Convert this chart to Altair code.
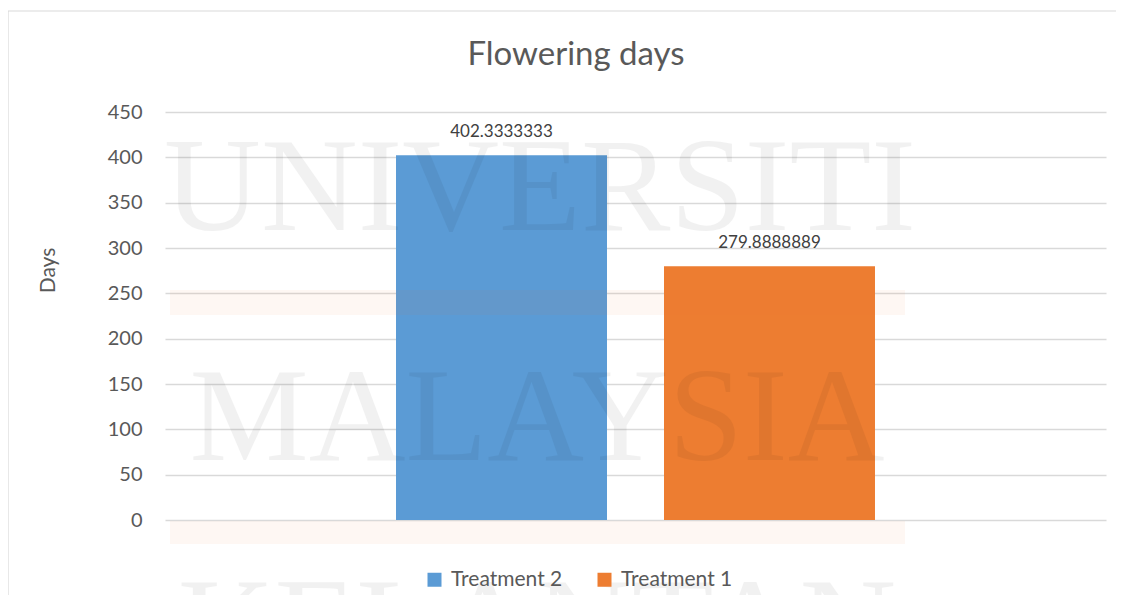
import altair as alt
import pandas as pd

# ---- data ----
series = ["Treatment 2", "Treatment 1"]
values = [402.3333333, 279.8888889]
colors = ["#5B9BD5", "#ED7D31"]
y_ticks = [0, 50, 100, 150, 200, 250, 300, 350, 400, 450]
chart_title = "Flowering days"
y_title = "Days"
watermark_words = ["UNIVERSITI", "MALAYSIA", "KELANTAN"]

df = pd.DataFrame({"series": series, "value": values})
one = pd.DataFrame({"k": [0]})

FONT = "Lato"
TXT = "#595959"
W, H = 941, 408

x_enc = alt.X(
    "series:N",
    sort=series,
    axis=None,
    scale=alt.Scale(domain=series, paddingInner=0.2127, paddingOuter=0.862),
)
y_scale = alt.Scale(domain=[0, 450], nice=False, zero=True)

# outer frame of the chart box: only its top and left sides are inside the picture
frame_top = alt.Chart(one).mark_rule(color="#d9d9d9", strokeWidth=1.2).encode(
    x=alt.value(-157), x2=alt.value(951), y=alt.value(-101)
)
frame_left = alt.Chart(one).mark_rule(color="#d9d9d9", strokeWidth=1.2).encode(
    x=alt.value(-157), y=alt.value(-101), y2=alt.value(500)
)

title_mark = alt.Chart(pd.DataFrame({"t": [chart_title]})).mark_text(
    font=FONT, fontSize=33, color=TXT, baseline="alphabetic", align="center"
).encode(x=alt.value(411), y=alt.value(-47), text="t:N")

bars = alt.Chart(df).mark_bar().encode(
    x=x_enc,
    y=alt.Y(
        "value:Q",
        scale=y_scale,
        axis=alt.Axis(
            values=y_ticks,
            title=y_title,
            grid=True,
            gridColor="#d9d9d9",
            gridWidth=1.4,
            domain=False,
            ticks=False,
            tickSize=0,
            labelPadding=23,
            labelFont=FONT,
            labelFontSize=20,
            labelColor=TXT,
            titleFont=FONT,
            titleFontSize=21,
            titleFontWeight="normal",
            titleColor=TXT,
            titleAngle=-90,
            titleBaseline="middle",
            titleAlign="center",
            titleX=-117,
            titleY=158,
        ),
    ),
    color=alt.Color(
        "series:N",
        scale=alt.Scale(domain=series, range=colors),
        legend=alt.Legend(
            title=None,
            orient="none",
            legendX=259,
            legendY=457,
            direction="horizontal",
            symbolType="square",
            symbolSize=196,
            symbolStrokeWidth=0,
            labelFont=FONT,
            labelFontSize=21,
            labelColor=TXT,
            labelOffset=6,
            columnPadding=31,
            labelLimit=300,
        ),
    ),
)

labels = alt.Chart(df).mark_text(
    baseline="alphabetic", dy=-18, font=FONT, fontSize=17, color="#404040"
).encode(
    x=x_enc,
    y=alt.Y("value:Q", scale=y_scale),
    text=alt.Text("value:Q", format=".7f"),
)

# faint background watermark of the source document
bands = [
    alt.Chart(one).mark_rect(color="#ED7D31", opacity=0.06).encode(
        x=alt.value(5), x2=alt.value(740), y=alt.value(178), y2=alt.value(203)
    ),
    alt.Chart(one).mark_rect(color="#ED7D31", opacity=0.06).encode(
        x=alt.value(5), x2=alt.value(740), y=alt.value(409), y2=alt.value(432)
    ),
]
wm_pos = [(375, 118), (372, 348), (372, 558)]
wm_layers = []
for word, (px, py) in zip(watermark_words, wm_pos):
    wm_layers.append(
        alt.Chart(pd.DataFrame({"w": [word]})).mark_text(
            font="Liberation Serif", fontSize=134, color="#000000", opacity=0.05,
            baseline="alphabetic", align="center"
        ).encode(x=alt.value(px), y=alt.value(py), text="w:N")
    )

chart = alt.layer(frame_top, frame_left, title_mark, bars, labels, *bands, *wm_layers).properties(
    width=W,
    height=H,
    autosize=alt.AutoSizeParams(type="none"),
    padding={"left": 157, "top": 104, "right": 10, "bottom": 75},
).configure(background="white").configure_view(stroke="transparent", strokeWidth=0)

chart.save("out.html", embed_options={"renderer": "svg", "actions": False})
